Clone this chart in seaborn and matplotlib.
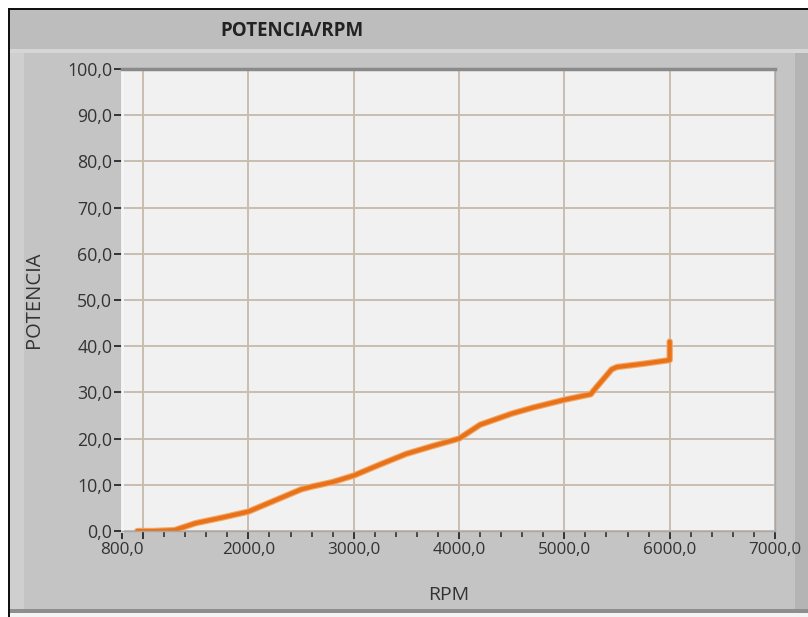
import matplotlib
matplotlib.use("Agg")
import matplotlib.pyplot as plt
import matplotlib.patheffects as pe
from matplotlib.patches import Rectangle
from matplotlib.ticker import FixedLocator, MultipleLocator, FuncFormatter
import seaborn as sns
import pandas as pd

# Measured power curve
rpm = [945, 1100, 1300, 1500, 1750, 2000, 2250, 2500, 2600, 2800, 3000,
       3250, 3500, 3750, 4000, 4200, 4500, 4700, 5000, 5250, 5300,
       5450, 5500, 5750, 6000, 6000]
potencia = [0.0, 0.0, 0.2, 1.7, 2.9, 4.2, 6.6, 9.0, 9.6, 10.6, 12.0,
            14.4, 16.7, 18.4, 20.0, 23.0, 25.4, 26.7, 28.4, 29.6, 31.0,
            35.0, 35.5, 36.2, 37.0, 41.0]

x_major = [800, 1000, 2000, 3000, 4000, 5000, 6000, 7000]
x_labels = ["800,0", "", "2000,0", "3000,0", "4000,0", "5000,0", "6000,0", "7000,0"]
y_major = list(range(0, 101, 10))

df = pd.DataFrame({"RPM": rpm, "POTENCIA": potencia})

sns.set_theme(style="white")
plt.rcParams["font.family"] = ["Open Sans", "DejaVu Sans"]

fig = plt.figure(figsize=(8.08, 6.17), dpi=100)
fig.patch.set_facecolor("white")

W, H = 808, 617
def box(x0, y0, x1, y1, **kw):
    fig.patches.append(Rectangle((x0 / W, 1 - y1 / H), (x1 - x0) / W, (y1 - y0) / H,
                                 transform=fig.transFigure, zorder=-10, **kw))

# Panel, title bar and bevelled frame
box(8, 8, 808, 617, facecolor="#c4c4c4", edgecolor="none")
box(8, 8, 808, 10, facecolor="#111111", edgecolor="none")
box(8, 8, 10, 617, facecolor="#111111", edgecolor="none")
box(10, 10, 808, 49, facecolor="#bdbdbd", edgecolor="none")
box(10, 49, 808, 53, facecolor="#d6d6d6", edgecolor="none")
box(10, 53, 24, 610, facecolor="#cfcfcf", edgecolor="none")
box(795, 53, 808, 610, facecolor="#b4b4b4", edgecolor="none")
box(10, 609, 808, 613, facecolor="#8e8e8e", edgecolor="none")
box(10, 613, 808, 617, facecolor="#f4f4f4", edgecolor="none")

ax = fig.add_axes([122 / W, 1 - 531 / H, (775 - 122) / W, (531 - 69) / H])
ax.set_facecolor("#f1f1f1")

sns.lineplot(data=df, x="RPM", y="POTENCIA", sort=False, estimator=None,
             color="#e8721a", linewidth=3.0, ax=ax,
             path_effects=[pe.Stroke(linewidth=4.6, foreground="#f4a864"), pe.Normal()])

ax.set_xlim(800, 7000)
ax.set_ylim(0, 100)

ax.xaxis.set_major_locator(FixedLocator(x_major))
ax.set_xticklabels(x_labels)
ax.xaxis.set_minor_locator(MultipleLocator(200))
ax.yaxis.set_major_locator(FixedLocator(y_major))
ax.yaxis.set_major_formatter(FuncFormatter(lambda v, p: f"{v:.1f}".replace(".", ",")))

ax.grid(True, which="major", color="#c9bdb2", linewidth=1.4)
ax.tick_params(axis="x", which="major", direction="out", length=5.5, width=1.4,
               color="#333333", labelsize=12.3, labelcolor="#333333", pad=2.5, bottom=True)
ax.tick_params(axis="x", which="minor", direction="out", length=4, width=1.2,
               color="#333333", bottom=True)
ax.tick_params(axis="y", which="major", direction="out", length=6, width=1.4,
               color="#333333", labelsize=12.8, labelcolor="#333333", pad=1, left=True)

for side, sp in ax.spines.items():
    sp.set_color("#a8a8a8")
    sp.set_linewidth(1.0)
ax.spines["top"].set_color("#8a8a8a")
ax.spines["top"].set_linewidth(2.5)
ax.spines["left"].set_color("#f6f6f6")
ax.spines["left"].set_linewidth(2)

ax.set_xlabel("RPM", fontsize=14, color="#333333", labelpad=20)
ax.set_ylabel("POTENCIA", fontsize=14.5, color="#333333", labelpad=17)

fig.text(292 / W, 1 - 31 / H, "POTENCIA/RPM", ha="center", va="center",
         fontsize=13.5, fontweight="bold", color="#222222")

fig.savefig("out.png", dpi=100)
